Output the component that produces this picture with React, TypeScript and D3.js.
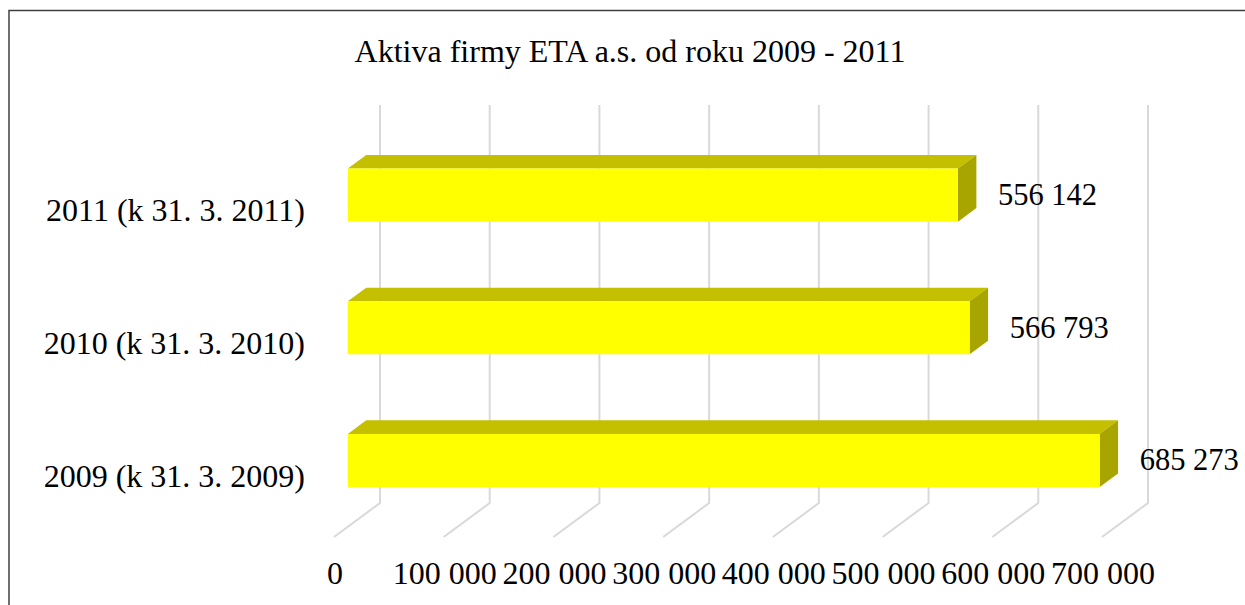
import * as d3 from "d3";

const W = 1245;
const H = 605;

// chart data
const categories = ["2011 (k 31. 3. 2011)", "2010 (k 31. 3. 2010)", "2009 (k 31. 3. 2009)"];
const values = [556142, 566793, 685273];
const ticks = [0, 100000, 200000, 300000, 400000, 500000, 600000, 700000];
const title = "Aktiva firmy ETA a.s. od roku 2009 - 2011";

// back wall of the 3D plot
const BACK = { left: 380, right: 1148, top: 105, bottom: 503 };
const DEPTH = { dx: -46, dy: 34 };
const BAR_BACK = 0.3;
const BAR_FRONT = 0.7;
const FONT = "'Liberation Serif', 'Times New Roman', serif";

const fmt = (v: number) => d3.format(",")(v).replace(/,/g, " ");

export default function App() {
  const xScale = d3.scaleLinear().domain([0, 700000]).range([BACK.left, BACK.right]);
  const yScale = d3
    .scaleBand<string>()
    .domain(categories)
    .range([BACK.top, BACK.bottom])
    .paddingInner(0.6)
    .paddingOuter(0.3);

  // project a point on the back wall forward by depth d (0 = back, 1 = front)
  const proj = (x: number, y: number, d: number): [number, number] => [
    x + DEPTH.dx * d,
    y + DEPTH.dy * d,
  ];
  const pts = (p: [number, number][]) => p.map((q) => q.join(",")).join(" ");

  const grid = ticks.map((t) => {
    const x = xScale(t);
    const [fx, fy] = proj(x, BACK.bottom, 1);
    return (
      <g key={t}>
        <polyline
          points={pts([[x, BACK.top], [x, BACK.bottom], [fx, fy]])}
          fill="none"
          stroke="#d9d9d9"
          strokeWidth={2}
        />
        <text x={fx + 1} y={584} textAnchor="middle" fontSize={32} fontFamily={FONT}>
          {fmt(t)}
        </text>
      </g>
    );
  });

  const bars = categories.map((c, i) => {
    const y0 = yScale(c) as number;
    const y1 = y0 + yScale.bandwidth();
    const x0 = xScale(0);
    const x1 = xScale(values[i]);
    const fTL = proj(x0, y0, BAR_FRONT);
    const fTR = proj(x1, y0, BAR_FRONT);
    const fBR = proj(x1, y1, BAR_FRONT);
    const fBL = proj(x0, y1, BAR_FRONT);
    const bTL = proj(x0, y0, BAR_BACK);
    const bTR = proj(x1, y0, BAR_BACK);
    const bBR = proj(x1, y1, BAR_BACK);
    const mid = (y0 + y1) / 2;
    const [lx, ly] = proj(BACK.left, mid, 1);
    return (
      <g key={c}>
        <polygon points={pts([fTL, bTL, bTR, fTR])} fill="#c4c000" />
        <polygon points={pts([fTR, bTR, bBR, fBR])} fill="#a8a400" />
        <polygon points={pts([fTL, fTR, fBR, fBL])} fill="#ffff00" />
        <text
          x={fTR[0] + 40}
          y={(fTR[1] + fBR[1]) / 2 + 10}
          fontSize={30.5}
          fontFamily={FONT}
        >
          {fmt(values[i])}
        </text>
        <text x={lx - 29} y={ly + 16} textAnchor="end" fontSize={32} fontFamily={FONT}>
          {c}
        </text>
      </g>
    );
  });

  return (
    <svg
      width={W}
      height={H}
      style={{ position: "absolute", left: 0, top: 0, background: "#fff" }}
    >
      <polyline
        points={pts([[9, H], [9, 10.5], [W, 10.5]])}
        fill="none"
        stroke="#404040"
        strokeWidth={1.5}
      />
      <text x={630} y={62} textAnchor="middle" fontSize={32} fontFamily={FONT}>
        {title}
      </text>
      {grid}
      {bars}
    </svg>
  );
}
